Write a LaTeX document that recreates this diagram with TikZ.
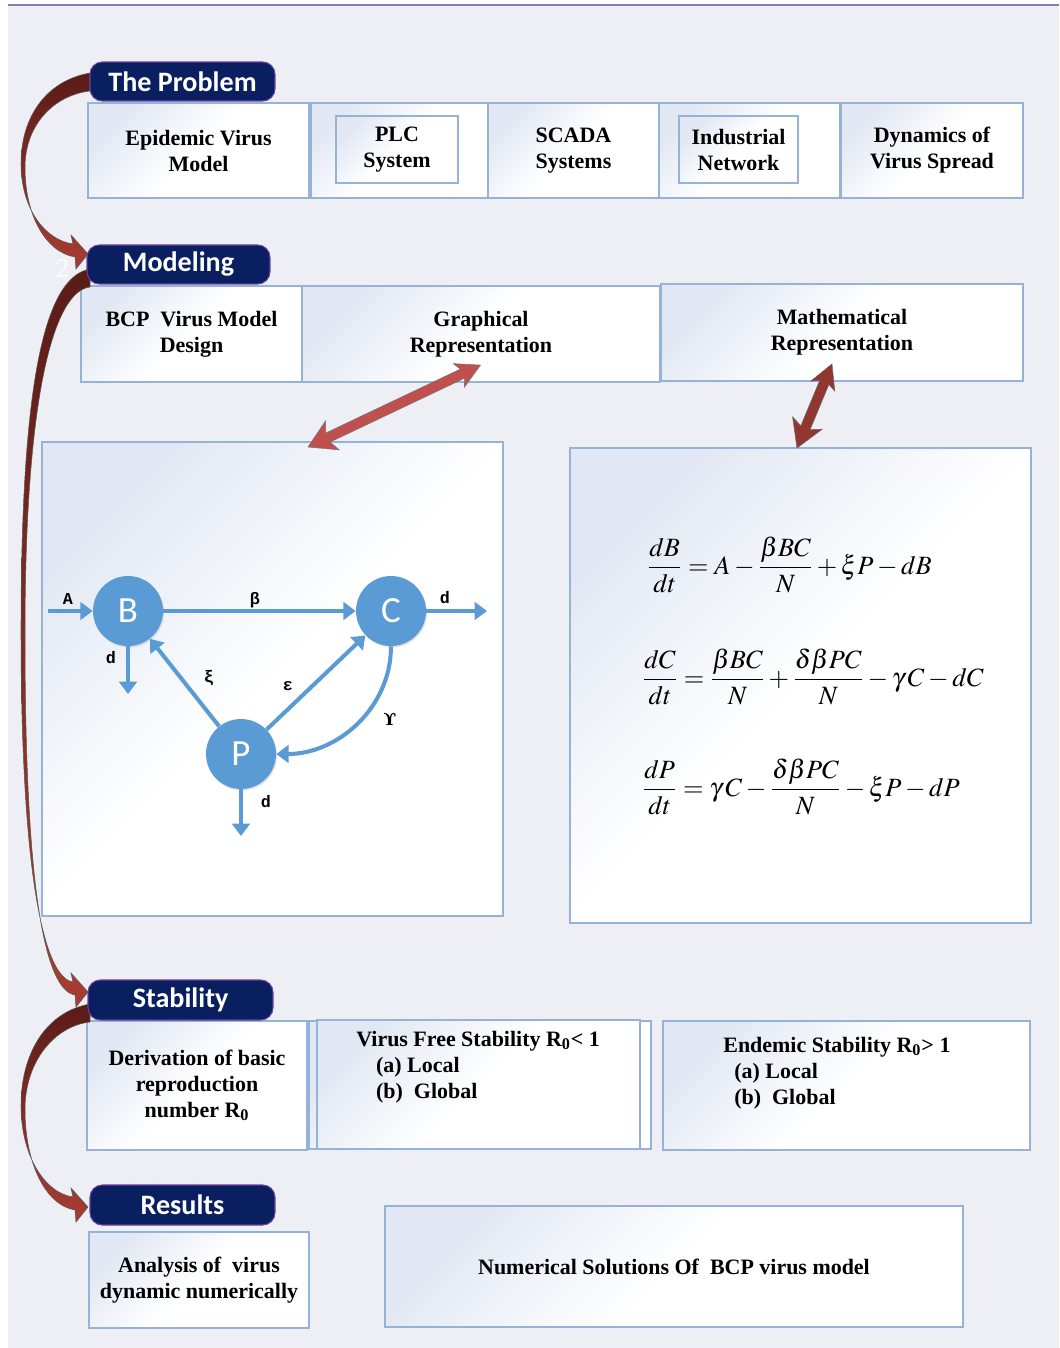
\documentclass[tikz,border=0pt]{standalone}
\usepackage{mathptmx}
\usepackage{fontspec}
\setmainfont{Liberation Serif}
\newfontfamily\pillfont{Carlito}
\newfontfamily\labfont{Liberation Mono}
\newfontfamily\symfont{DejaVu Serif}
\usetikzlibrary{calc,shadows,arrows.meta}

\definecolor{navy}{HTML}{0A1F5F}
\definecolor{navyedge}{HTML}{6B3FA0}
\definecolor{boxline}{HTML}{95B3D7}
\definecolor{boxtint}{HTML}{E2E8F3}
\definecolor{nodeblue}{HTML}{5B9BD5}
\definecolor{bgpaper}{HTML}{EDEFF4}
\definecolor{topline}{HTML}{8A7CB0}
\definecolor{rustdark}{HTML}{5A1B17}
\definecolor{rustlight}{HTML}{A83D32}
\definecolor{brick}{HTML}{C0504D}
\definecolor{rustmid}{HTML}{943630}

% fat curved arrow on the left margin, from tail top (#1) to head tip (#2)
\def\loopback(#1:#2){\shadedraw[top color=rustdark, bottom color=rustlight, draw=black!65, line width=0.3pt]
  (90,#1) .. controls (45,{#1+8}) and (21,{#1+min(0.25*(#2-#1),110)}) .. (21,{(#1+#2)/2})
  .. controls (21,{#2-min(0.25*(#2-#1),110)}) and (45,{#2-14}) .. (73,{#2-10})
  -- (71,{#2-19}) -- (88,#2) -- (76,{#2+15}) -- (75,{#2+3})
  .. controls (45,{#2-2}) and (25,{#2-min(0.22*(#2-#1),100)}) .. (25,{(#1+#2)/2+4})
  .. controls (25,{#1+min(0.28*(#2-#1),120)}) and (55,{#1+22}) .. (90,{#1+18}) -- cycle;}

% straight double headed arrow: tip, angle, length
\def\twinarrow[#1](#2)(#3:#4){\filldraw[#1, shift={(#2)}, rotate=#3]
  (0,0) -- (27,-16) -- (22,-5) -- ({#4-20},-5) -- ({#4-24},-13) -- (#4,0)
  -- ({#4-24},13) -- ({#4-20},5) -- (22,5) -- (27,16) -- cycle;}

\begin{document}
\begin{tikzpicture}[x=0.02cm, y=-0.02cm,
  box/.style={draw=boxline, line width=0.7pt, top color=boxtint, bottom color=white,
    middle color=white, shading angle=45, inner sep=2pt, align=center,
    font=\fontsize{12.5}{14.8}\selectfont\bfseries},
  boxtext/.style={inner sep=0pt, align=left, font=\fontsize{12.5}{14.8}\selectfont\bfseries},
  pill/.style={draw=navyedge, line width=0.6pt, fill=navy, rounded corners=7pt,
    minimum width=3.7cm, minimum height=0.78cm, text=white,
    font=\pillfont\fontsize{16}{18}\selectfont\bfseries},
  vertex/.style={circle, fill=nodeblue, minimum size=1.4cm, inner sep=0pt, text=white,
    font=\pillfont\fontsize{21}{24}\selectfont,
    drop shadow={opacity=0.25, shadow xshift=0.6pt, shadow yshift=-0.8pt}},
  flowline/.style={line width=2.3pt, nodeblue, -{Triangle[length=7pt,width=10pt]}},
  rate/.style={inner sep=1pt, font=\labfont\bfseries\fontsize{9.5}{11}\selectfont},
  eqn/.style={anchor=west, inner sep=0pt, font=\fontsize{15}{18}\selectfont}]

\useasboundingbox (0,0) rectangle (1059,1348);
\fill[bgpaper] (8,5) rectangle (1059,1348);
\draw[topline, line width=0.8pt] (8,5) -- (1059,5);

%%% the problem
\node[box, minimum width=4.42cm, minimum height=1.9cm] (epi) at (198.5,150.5) {Epidemic Virus\\Model};
\node[box, minimum width=3.54cm, minimum height=1.9cm] (plc) at (399.5,150.5) {};
\node[box, minimum width=2.44cm, minimum height=1.34cm] (plcin) at (397,149.5) {PLC\\System};
\node[box, minimum width=3.42cm, minimum height=1.9cm] (scada) at (573.5,150.5) {SCADA\\Systems};
\node[box, minimum width=3.62cm, minimum height=1.9cm] (ind) at (749.5,150.5) {};
\node[box, minimum width=2.38cm, minimum height=1.34cm] (indin) at (738.5,149.5) {Industrial\\Network};
\node[box, minimum width=3.64cm, minimum height=1.9cm] (dyn) at (932,150.5) {Dynamics of\\Virus Spread};

%%% modeling
\node[box, minimum width=4.42cm, minimum height=1.92cm] (bcp) at (191.5,334) {BCP~ Virus Model\\Design};
\node[box, minimum width=7.16cm, minimum height=1.92cm] (graph) at (481,334) {Graphical\\Representation};
\node[box, minimum width=7.24cm, minimum height=1.94cm] (math) at (842,332.5) {Mathematical\\Representation};

\node[box, minimum width=9.22cm, minimum height=9.48cm] (flow) at (272.5,679) {};
\node[box, minimum width=9.22cm, minimum height=9.5cm] (eqs) at (800.5,685.5) {};

\twinarrow[fill=brick, draw=black!55, line width=0.3pt](308,447)(25.4:191);
\twinarrow[fill=rustmid, draw=black!60, line width=0.3pt](797,448)(67.4:91);

% compartments
\node[vertex] (B) at (128,611) {B};
\node[vertex] (C) at (391,611) {C};
\node[vertex] (P) at (241,754) {P};
\coordinate (Ain) at (48,611);
\coordinate (Cout) at (487,611);
\coordinate (Bout) at (128,694);
\coordinate (Pout) at (241,836);

\draw[flowline] (Ain) -- (B);
\draw[flowline] (B) -- (C);
\draw[flowline] (C) -- (Cout);
\draw[flowline] (B.south) -- (Bout);
\draw[flowline] (P) -- (B);
\draw[flowline] (P) -- (C);
\draw[flowline] (C.south) to[out=-90, in=0] (P);
\draw[flowline] (P.south) -- (Pout);

\node[rate] (lA) at (68,599) {A};
\node[rate] (lbeta) at (255,600) {β};
\node[rate] (ldC) at (445,598) {d};
\node[rate] (ldB) at (111,658) {d};
\node[rate] (lxi) at (209,678) {ξ};
\node[rate] (leps) at (288,686) {ε};
\node[rate, font=\symfont\bfseries\fontsize{9.5}{11}\selectfont] (lgam) at (390,719) {ϒ};
\node[rate] (ldP) at (266,802) {d};

% model equations
\node[eqn] (eq1) at (647,565) {$\displaystyle \frac{dB}{dt}=A-\frac{\beta BC}{N}+\xi P-dB$};
\node[eqn] (eq2) at (642,677) {$\displaystyle \frac{dC}{dt}=\frac{\beta BC}{N}+\frac{\delta\beta PC}{N}-\gamma\mkern2mu C-dC$};
\node[eqn] (eq3) at (642,787) {$\displaystyle \frac{dP}{dt}=\gamma\mkern2mu C-\frac{\delta\beta PC}{N}-\xi P-dP$};

%%% stability
\node[box, minimum width=4.4cm, minimum height=2.58cm] (deriv) at (197,1085.5) {Derivation of basic\\reproduction\\number R\textsubscript{0}};
\node[box, minimum width=6.84cm, minimum height=2.56cm] (vfreeout) at (480,1085) {};
\node[box, minimum width=6.46cm, minimum height=2.58cm] (vfree) at (478.5,1084.5) {};
\node[boxtext, anchor=north west] (vfreetxt) at (356,1031) {Virus Free Stability R\textsubscript{0}< 1\\\hspace*{0.9em}(a) Local\\\hspace*{0.9em}(b)~ Global};
\node[box, minimum width=7.34cm, minimum height=2.58cm] (endemic) at (846.5,1085.5) {};
\node[boxtext, anchor=north west] (endtxt) at (723,1037) {Endemic Stability R\textsubscript{0}> 1\\\hspace*{0.5em}(a) Local\\\hspace*{0.5em}(b)~ Global};

%%% results
\node[box, minimum width=4.4cm, minimum height=1.92cm] (analysis) at (199,1280) {Analysis of~ virus\\dynamic numerically};
\node[box, minimum width=11.56cm, minimum height=2.42cm] (numeric) at (674,1266.5) {Numerical Solutions Of~ BCP virus model};

%%% steps down the left side
\node[text=white, opacity=0.8, font=\pillfont\fontsize{16}{18}\selectfont] (two) at (62,268) {2};
\loopback(73:254);
\loopback(269:992);
\loopback(1004:1207);

\node[pill] (problem) at (182.5,81.5) {The Problem};
\node[pill, minimum width=3.66cm] (modeling) at (178.5,264.5) {Modeling};
\node[pill, minimum height=0.8cm] (stability) at (180.5,1000) {Stability};
\node[pill, minimum height=0.8cm] (results) at (182.5,1205) {Results};

\end{tikzpicture}
\end{document}
